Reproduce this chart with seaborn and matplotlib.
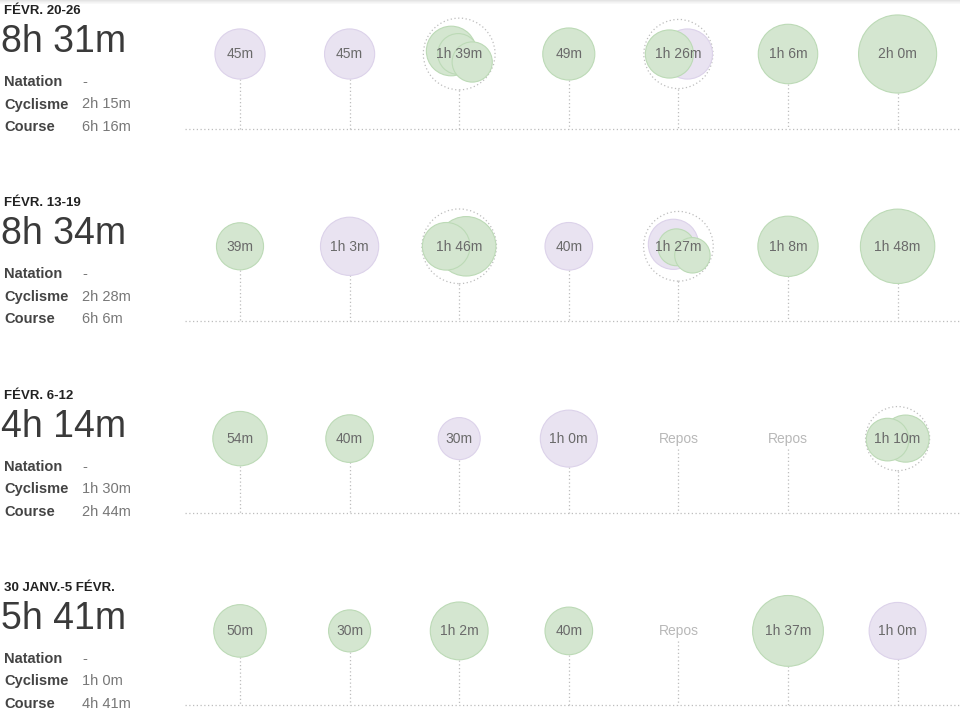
import numpy as np
import pandas as pd
import matplotlib
matplotlib.use("Agg")
import matplotlib.pyplot as plt
import seaborn as sns

# ---------------- data ----------------
weeks = ["FÉVR. 20-26", "FÉVR. 13-19", "FÉVR. 6-12", "30 JANV.-5 FÉVR."]
totals = ["8h 31m", "8h 34m", "4h 14m", "5h 41m"]
natation = ["-", "-", "-", "-"]
cyclisme = ["2h 15m", "2h 28m", "1h 30m", "1h 0m"]
course = ["6h 16m", "6h 6m", "2h 44m", "4h 41m"]
sport_names = ["Natation", "Cyclisme", "Course"]

day_labels = [
    ["45m", "45m", "1h 39m", "49m", "1h 26m", "1h 6m", "2h 0m"],
    ["39m", "1h 3m", "1h 46m", "40m", "1h 27m", "1h 8m", "1h 48m"],
    ["54m", "40m", "30m", "1h 0m", "Repos", "Repos", "1h 10m"],
    ["50m", "30m", "1h 2m", "40m", "Repos", "1h 37m", "1h 0m"],
]

# workouts: week index, day index, sport, minutes
wk_week = [0, 0, 0, 0, 0, 0, 0, 0, 0, 0,
           1, 1, 1, 1, 1, 1, 1, 1, 1, 1,
           2, 2, 2, 2, 2, 2,
           3, 3, 3, 3, 3, 3]
wk_day = [0, 1, 2, 2, 2, 3, 4, 4, 5, 6,
          0, 1, 2, 2, 3, 4, 4, 4, 5, 6,
          0, 1, 2, 3, 6, 6,
          0, 1, 2, 3, 5, 6]
wk_sport = ["Cyclisme", "Cyclisme", "Course", "Course", "Course", "Course", "Cyclisme", "Course", "Course", "Course",
            "Course", "Cyclisme", "Course", "Course", "Cyclisme", "Cyclisme", "Course", "Course", "Course", "Course",
            "Course", "Course", "Cyclisme", "Cyclisme", "Course", "Course",
            "Course", "Course", "Course", "Course", "Course", "Cyclisme"]
wk_minutes = [45, 45, 44, 28, 27, 49, 45, 41, 66, 120,
              39, 63, 66, 40, 40, 45, 22, 20, 68, 108,
              54, 40, 30, 60, 39, 31,
              50, 30, 62, 40, 97, 60]

# ---------------- layout (positions / styles) ----------------
W, H = 960, 711
DAY_X0, DAY_DX = 240, 109.6
ROW_Y0, ROW_DY = 54, 192.3
BASE_OFF = 74.5
# offsets of overlapping circles inside a multi-workout day, by workout row index
offsets = {2: (-8, -3), 3: (-1, 0), 4: (13, 8),
           6: (9, 0), 7: (-9, 0),
           12: (7, 0), 13: (-13, 0),
           15: (-5, -2), 16: (-2, 1), 17: (14, 9),
           24: (8, 0), 25: (-10, 1)}

GREEN_F, GREEN_E = "#d4e6d0", "#bcdab6"
PURPLE_F, PURPLE_E = "#e9e3f1", "#dcd2ea"
DOT = "#bdbdbd"
FONT = "Liberation Sans"


def radius(m):
    return 3 + 3.29 * np.sqrt(m)


df = pd.DataFrame({"week": wk_week, "day": wk_day, "sport": wk_sport, "minutes": wk_minutes})
df["cx"] = [DAY_X0 + d * DAY_DX + offsets.get(i, (0, 0))[0] for i, d in enumerate(df["day"])]
df["cy"] = [ROW_Y0 + w * ROW_DY + offsets.get(i, (0, 0))[1] for i, w in enumerate(df["week"])]
df["r"] = radius(df["minutes"])
df["s"] = (2 * df["r"] * 0.72) ** 2

sns.set_theme(style="white")
plt.rcParams["font.family"] = [FONT, "DejaVu Sans"]

fig = plt.figure(figsize=(W / 100, H / 100), dpi=100)
ax = fig.add_axes([0, 0, 1, 1])
ax.set_xlim(0, W)
ax.set_ylim(H, 0)
ax.axis("off")

# top shadow
for k, g in enumerate(["#e4e4e4", "#ececec", "#f3f3f3", "#f8f8f8"]):
    ax.axhspan(k, k + 1, color=g, lw=0, zorder=0)

dotted = (0, (1, 2))

for w in range(len(weeks)):
    cy = ROW_Y0 + w * ROW_DY
    by = cy + BASE_OFF
    # baseline
    ax.hlines(by, 185, 960, colors=DOT, linestyles=dotted, lw=0.9, zorder=1)
    # left texts
    ax.text(4, cy - 43, weeks[w], fontsize=9.5, fontweight="bold", color="#222", va="center", ha="left")
    ax.text(1, cy - 12, totals[w], fontsize=27, color="#3a3a3a", va="center", ha="left")
    vals = [natation[w], cyclisme[w], course[w]]
    for k, name in enumerate(sport_names):
        yy = cy + 28 + k * 22.5
        ax.text(4, yy, name, fontsize=10.5, fontweight="bold", color="#444", va="center", ha="left")
        ax.text(82, yy, vals[k], fontsize=10.5, color="#777", va="center", ha="left")

    for d in range(7):
        x = DAY_X0 + d * DAY_DX
        lab = day_labels[w][d]
        sub = df[(df["week"] == w) & (df["day"] == d)]
        if lab == "Repos" or len(sub) == 0:
            ax.text(x, cy, lab, fontsize=10, color="#b8b8b8", ha="center", va="center", zorder=5)
            ax.vlines(x, cy + 10, by, colors=DOT, linestyles=dotted, lw=0.9, zorder=1)
            continue
        if len(sub) > 1:
            ring = float(np.max(np.hypot(sub["cx"] - x, sub["cy"] - cy) + sub["r"])) + 0.5
            ax.scatter([x], [cy], s=(2 * ring * 0.72) ** 2, facecolors="none", edgecolors=DOT,
                       linewidths=0.9, linestyles=dotted, zorder=2)
            bottom = cy + ring
        else:
            bottom = cy + float(sub["r"].iloc[0])
        ax.vlines(x, bottom, by, colors=DOT, linestyles=dotted, lw=0.9, zorder=1)
        ax.text(x, cy + 0.5, lab, fontsize=10, color="#6a6a6a", ha="center", va="center", zorder=6)

# circles: purple (cyclisme) first, green (course) on top
cyc = df[df["sport"] == "Cyclisme"]
run = df[df["sport"] == "Course"]
sns.scatterplot(data=cyc, x="cx", y="cy", s=cyc["s"].to_numpy(), color=PURPLE_F, edgecolor=PURPLE_E,
                linewidth=0.8, ax=ax, legend=False, zorder=3)
sns.scatterplot(data=run, x="cx", y="cy", s=run["s"].to_numpy(), color=GREEN_F, edgecolor=GREEN_E,
                linewidth=0.8, ax=ax, legend=False, zorder=4)

ax.set_xlim(0, W)
ax.set_ylim(H, 0)
ax.set_xlabel("")
ax.set_ylabel("")
fig.savefig("out.png", dpi=100)
